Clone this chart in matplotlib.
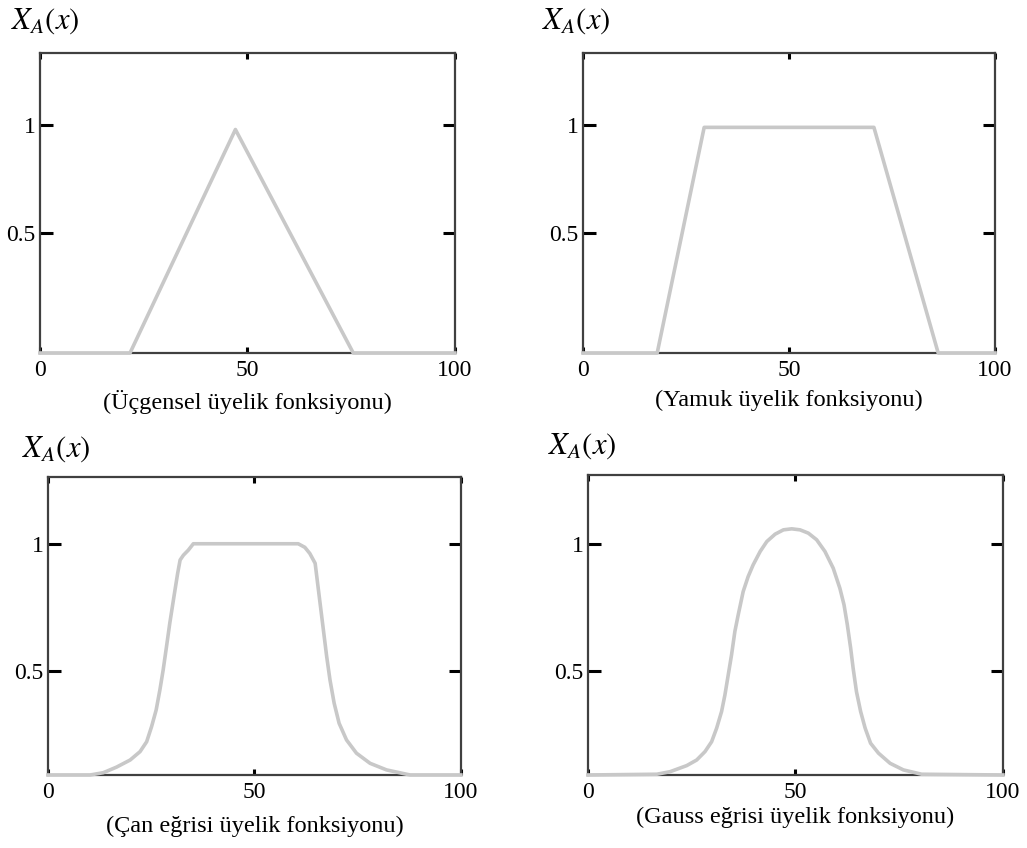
import numpy as np
import matplotlib.pyplot as plt

plt.rcParams['font.family'] = ['Liberation Serif', 'DejaVu Serif']
plt.rcParams['mathtext.fontset'] = 'stix'

# Üçgensel üyelik fonksiyonu
tri_x = [0, 21.7, 47.1, 75.5, 100]
tri_y = [-0.06, -0.06, 0.98, -0.06, -0.06]

# Yamuk üyelik fonksiyonu
trap_x = [0, 18.0, 29.4, 70.6, 86.2, 100]
trap_y = [-0.06, -0.06, 0.99, 0.99, -0.06, -0.06]

# Çan eğrisi üyelik fonksiyonu
bell_x = [0, 10.2, 13.4, 16.6, 19.9, 22.3, 23.9, 25.1, 26.2, 27.1, 27.9, 28.7,
          29.5, 30.5, 31.4, 32.0, 32.8, 34.0, 35.2, 60.6, 62.2, 63.4, 64.7,
          65.2, 65.9, 66.7, 67.5, 68.3, 69.3, 70.5, 72.3, 74.7, 78.0, 82.0,
          87.7, 100]
bell_y = [0.089, 0.089, 0.098, 0.120, 0.148, 0.181, 0.220, 0.280, 0.345, 0.424,
          0.503, 0.594, 0.687, 0.791, 0.883, 0.936, 0.955, 0.975, 1.0, 1.0,
          0.986, 0.962, 0.923, 0.857, 0.765, 0.660, 0.555, 0.463, 0.372, 0.293,
          0.227, 0.175, 0.135, 0.109, 0.089, 0.089]

# Gauss eğrisi üyelik fonksiyonu
gauss_x = [0, 16.6, 19.8, 23.8, 26.2, 28.2, 29.8, 31.0, 32.2, 33.0, 33.8, 34.6,
           35.4, 36.2, 37.4, 38.6, 39.8, 41.5, 43.1, 45.1, 47.1, 49.1, 51.1,
           53.1, 55.1, 57.1, 59.1, 60.7, 61.7, 62.5, 63.3, 63.9, 64.7, 65.7,
           66.8, 68.1, 70.0, 72.8, 76.0, 80.4, 100]
gauss_y = [0.089, 0.092, 0.102, 0.126, 0.148, 0.181, 0.220, 0.273, 0.339, 0.404,
           0.483, 0.562, 0.654, 0.719, 0.811, 0.870, 0.916, 0.969, 1.008, 1.037,
           1.054, 1.058, 1.054, 1.041, 1.015, 0.969, 0.903, 0.824, 0.759, 0.680,
           0.588, 0.509, 0.417, 0.339, 0.273, 0.214, 0.175, 0.135, 0.109, 0.092,
           0.089]

captions = ['(Üçgensel üyelik fonksiyonu)', '(Yamuk üyelik fonksiyonu)',
            '(Çan eğrisi üyelik fonksiyonu)', '(Gauss eğrisi üyelik fonksiyonu)']
xs = [tri_x, trap_x, bell_x, gauss_x]
ys = [tri_y, trap_y, bell_y, gauss_y]

# layout (figure fractions) and per-panel limits
rects = [[0.0389, 0.5837, 0.4041, 0.3538],
         [0.5677, 0.5837, 0.4012, 0.3538],
         [0.0467, 0.0861, 0.4021, 0.3514],
         [0.5725, 0.0861, 0.4041, 0.3538]]
ylims = [(-0.06, 1.336), (-0.06, 1.336), (0.089, 1.263), (0.089, 1.27)]
cap_y = [-0.163, -0.157, -0.174, -0.143]
lab_pos = [(-0.069, 1.105), (-0.10, 1.105), (-0.062, 1.092), (-0.097, 1.095)]

fig = plt.figure(figsize=(10.27, 8.48), dpi=100)
for i in range(4):
    ax = fig.add_axes(rects[i])
    ax.plot(xs[i], ys[i], color='#c8c8c8', lw=2.6, zorder=3, clip_on=False,
            solid_joinstyle='round')
    ax.set_xlim(0, 100)
    ax.set_ylim(*ylims[i])
    ax.set_xticks([0, 50, 100], ['0', '50', '100'])
    ax.set_yticks([0.5, 1], ['0.5', '1'])
    ax.tick_params(axis='y', direction='in', length=9, width=2.2, left=True,
                   right=True, labelsize=17, pad=3, colors='black')
    ax.tick_params(axis='x', direction='in', length=4, width=2.2, bottom=True,
                   top=True, labelsize=17, pad=5, colors='black')
    for s in ax.spines.values():
        s.set_color('#404040')
        s.set_linewidth(1.6)
    ax.text(0.5, cap_y[i], captions[i], transform=ax.transAxes, ha='center',
            va='center', fontsize=17.5)
    ax.text(lab_pos[i][0], lab_pos[i][1], r'$X_A(x)$', transform=ax.transAxes,
            ha='left', va='center', fontsize=22)

plt.savefig('out.png', dpi=100)
